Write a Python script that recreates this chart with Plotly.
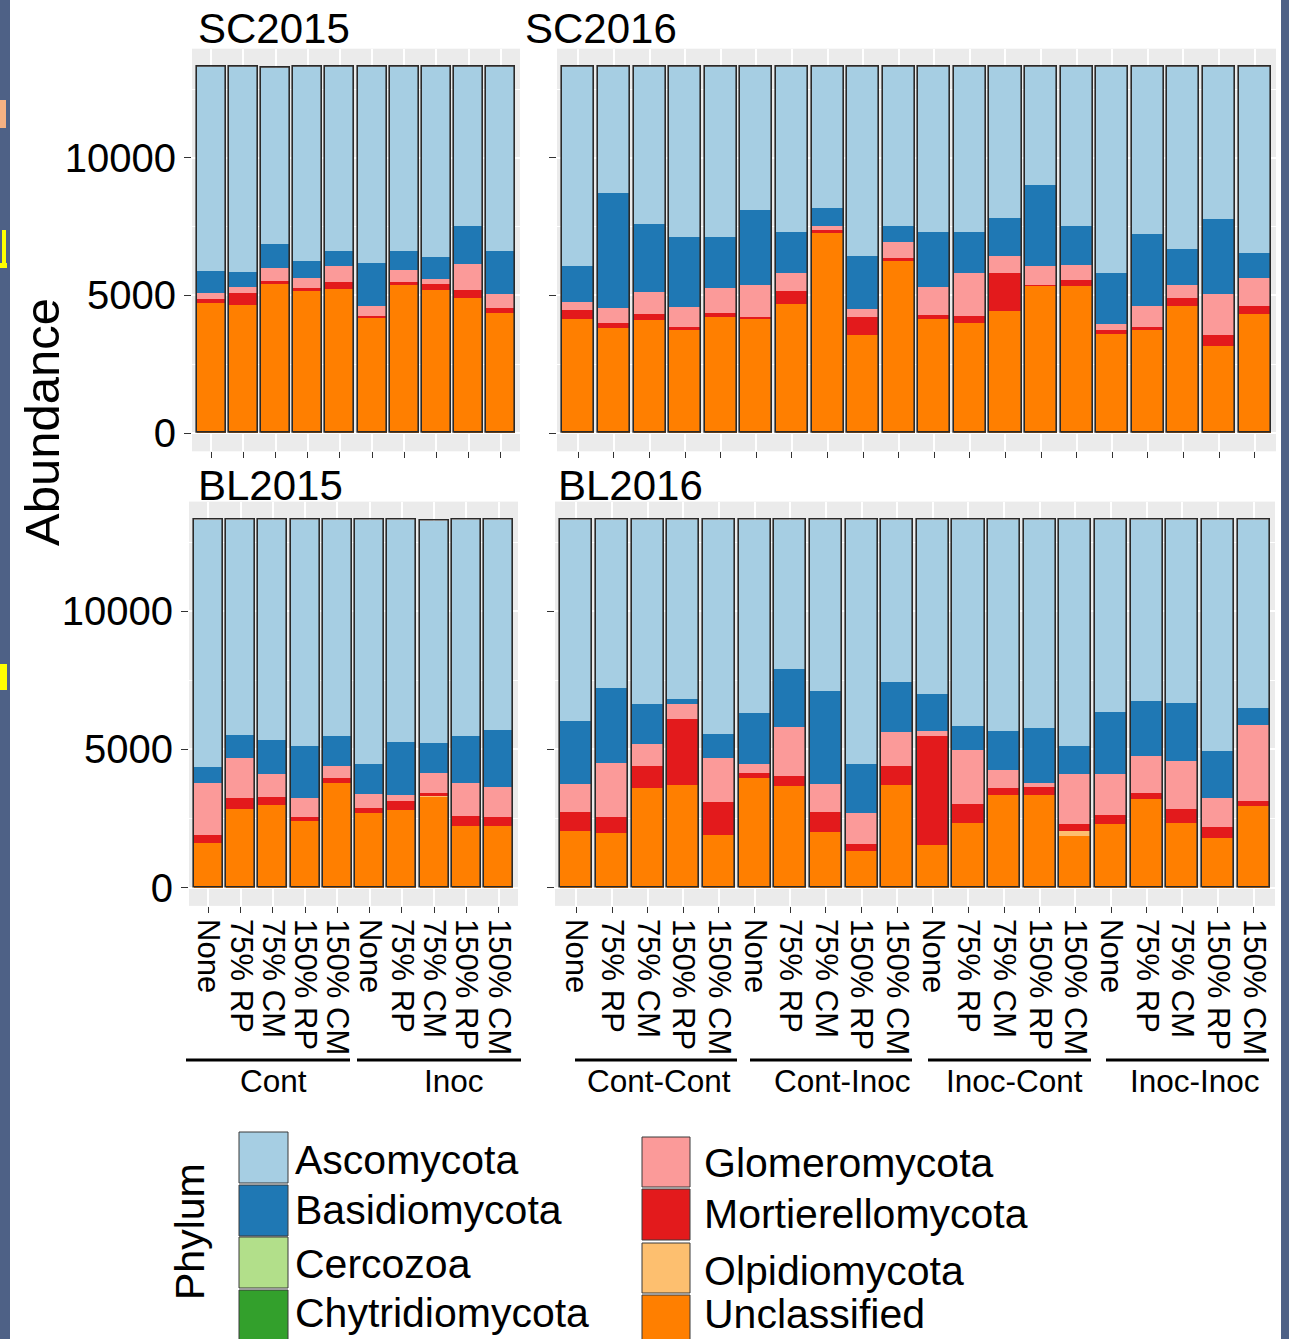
import plotly.graph_objects as go

W, H = 1289, 1339
FONT = "Liberation Sans, Arial, sans-serif"

# ---------------- data ----------------
phyla = ["Ascomycota", "Basidiomycota", "Cercozoa", "Chytridiomycota",
         "Glomeromycota", "Mortierellomycota", "Olpidiomycota", "Unclassified"]
phylum_colors = ["#A6CEE3", "#1F78B4", "#B2DF8A", "#33A02C",
                 "#FB9A99", "#E31A1C", "#FDBF6F", "#FF7F00"]

amend_2015 = ["None", "75% RP", "75% CM", "150% RP", "150% CM"] * 2
amend_2016 = ["None", "75% RP", "75% CM", "150% RP", "150% CM"] * 4
groups_2015 = ["Cont", "Inoc"]
groups_2016 = ["Cont-Cont", "Cont-Inoc", "Inoc-Cont", "Inoc-Inoc"]
panel_titles = ["SC2015", "SC2016", "BL2015", "BL2016"]

# SC2015
sc15_ascomycota = [7400, 7430, 6410, 7030, 6690, 7100, 6670, 6880, 5780, 6680]
sc15_basidiomycota = [810, 570, 870, 630, 540, 1560, 690, 830, 1360, 1550]
sc15_glomeromycota = [220, 190, 470, 370, 570, 380, 450, 180, 960, 530]
sc15_mortierellomycota = [120, 460, 130, 110, 260, 40, 100, 200, 300, 180]
sc15_olpidiomycota = [0, 0, 0, 0, 0, 20, 0, 0, 0, 0]
sc15_unclassified = [4750, 4650, 5410, 5160, 5240, 4200, 5390, 5210, 4900, 4360]

# SC2016
sc16_ascomycota = [7220, 4560, 5680, 6150, 6160, 5190, 5980, 5100, 6860, 5760,
                   5970, 5980, 5470, 4260, 5760, 7490, 6070, 6620, 5530, 6740]
sc16_basidiomycota = [1300, 4180, 2480, 2570, 1870, 2730, 1510, 670, 1920, 580,
                      2000, 1510, 1380, 2950, 1430, 1820, 2590, 1290, 2720, 930]
sc16_glomeromycota = [300, 540, 820, 730, 890, 1140, 630, 140, 280, 600,
                      1030, 1540, 610, 700, 540, 240, 790, 490, 1480, 990]
sc16_mortierellomycota = [340, 180, 200, 100, 170, 90, 480, 100, 670, 90,
                          160, 250, 1380, 30, 220, 140, 100, 270, 400, 310]
sc16_olpidiomycota = [0] * 20
sc16_unclassified = [4140, 3840, 4120, 3750, 4210, 4150, 4700, 7290, 3570, 6270,
                     4140, 4020, 4460, 5360, 5350, 3610, 3750, 4630, 3170, 4330]

# BL2015
bl15_ascomycota = [8910, 7760, 7950, 8180, 7820, 8800, 8030, 8030, 7790, 7580]
bl15_basidiomycota = [610, 840, 1220, 1860, 1060, 1100, 1890, 1090, 1730, 2060]
bl15_glomeromycota = [1860, 1460, 850, 710, 450, 510, 240, 730, 1190, 1100]
bl15_mortierellomycota = [280, 370, 290, 120, 160, 180, 330, 110, 360, 330]
bl15_olpidiomycota = [0, 0, 0, 0, 0, 0, 0, 40, 0, 0]
bl15_unclassified = [1640, 2870, 2990, 2430, 3810, 2710, 2810, 3290, 2230, 2230]

# BL2016
bl16_ascomycota = [7270, 6080, 6650, 6480, 7730, 6960, 5370, 6190, 8820, 5860,
                   6290, 7450, 7630, 7510, 8150, 6920, 6550, 6610, 8360, 6780]
bl16_basidiomycota = [2280, 2710, 1450, 150, 870, 1860, 2110, 3360, 1770, 1790,
                      1340, 850, 1400, 2010, 1040, 2250, 1990, 2110, 1680, 630]
bl16_glomeromycota = [1010, 1950, 790, 550, 1590, 310, 1770, 1010, 1120, 1220,
                      160, 1950, 670, 120, 1790, 1480, 1320, 1710, 1040, 2760]
bl16_mortierellomycota = [690, 570, 780, 2380, 1190, 210, 350, 700, 270, 690,
                          3960, 700, 250, 280, 250, 330, 230, 530, 430, 170]
bl16_olpidiomycota = [0, 0, 0, 0, 0, 0, 0, 0, 0, 0,
                      0, 0, 0, 0, 180, 0, 0, 0, 0, 0]
bl16_unclassified = [2050, 1990, 3630, 3740, 1920, 3960, 3700, 2040, 1320, 3740,
                     1550, 2350, 3350, 3380, 1890, 2320, 3210, 2340, 1790, 2960]

zeros10 = [0] * 10
zeros20 = [0] * 20

panels_data = [
    (amend_2015, {"Ascomycota": sc15_ascomycota, "Basidiomycota": sc15_basidiomycota,
                  "Cercozoa": zeros10, "Chytridiomycota": zeros10,
                  "Glomeromycota": sc15_glomeromycota, "Mortierellomycota": sc15_mortierellomycota,
                  "Olpidiomycota": sc15_olpidiomycota, "Unclassified": sc15_unclassified}),
    (amend_2016, {"Ascomycota": sc16_ascomycota, "Basidiomycota": sc16_basidiomycota,
                  "Cercozoa": zeros20, "Chytridiomycota": zeros20,
                  "Glomeromycota": sc16_glomeromycota, "Mortierellomycota": sc16_mortierellomycota,
                  "Olpidiomycota": sc16_olpidiomycota, "Unclassified": sc16_unclassified}),
    (amend_2015, {"Ascomycota": bl15_ascomycota, "Basidiomycota": bl15_basidiomycota,
                  "Cercozoa": zeros10, "Chytridiomycota": zeros10,
                  "Glomeromycota": bl15_glomeromycota, "Mortierellomycota": bl15_mortierellomycota,
                  "Olpidiomycota": bl15_olpidiomycota, "Unclassified": bl15_unclassified}),
    (amend_2016, {"Ascomycota": bl16_ascomycota, "Basidiomycota": bl16_basidiomycota,
                  "Cercozoa": zeros20, "Chytridiomycota": zeros20,
                  "Glomeromycota": bl16_glomeromycota, "Mortierellomycota": bl16_mortierellomycota,
                  "Olpidiomycota": bl16_olpidiomycota, "Unclassified": bl16_unclassified}),
]

# ---------------- layout geometry (pixels) ----------------
panel_px = [  # x0, x1, y0(top), y1(bottom)
    (192, 520, 48.7, 451.3),
    (557, 1276, 48.7, 451.3),
    (189, 518, 501.6, 905.9),
    (555, 1275, 501.6, 905.9),
]
title_px = [(196, 28), (523, 28), (196, 486), (556, 486)]


def fx(px):
    return px / W


def fy(py):
    return 1 - py / H


fig = go.Figure()
color_of = dict(zip(phyla, phylum_colors))
stack_order = list(reversed(phyla))  # bottom to top

for p, (labels, seg) in enumerate(panels_data):
    n = len(labels)
    xs = list(range(n))
    ax = "" if p == 0 else str(p + 1)
    cum = [0] * n
    for ph in stack_order:
        vals = seg[ph]
        fig.add_trace(go.Bar(
            x=xs, y=vals, base=list(cum), width=0.9,
            marker=dict(color=color_of[ph], line=dict(width=0)),
            name=ph, showlegend=False,
            xaxis="x" + ax, yaxis="y" + ax,
        ))
        cum = [c + v for c, v in zip(cum, vals)]
    # outline of the whole bar
    fig.add_trace(go.Bar(
        x=xs, y=cum, base=[0] * n, width=0.9,
        marker=dict(color="rgba(0,0,0,0)", line=dict(color="#2a2a2a", width=1.6)),
        showlegend=False, hoverinfo="skip",
        xaxis="x" + ax, yaxis="y" + ax,
    ))

    x0, x1, y0, y1 = panel_px[p]
    bottom = p >= 2
    left = p in (0, 2)
    fig.layout["xaxis" + ax] = dict(
        domain=[fx(x0), fx(x1)], anchor="y" + ax,
        range=[-0.6, n - 0.4], tickmode="array", tickvals=xs, ticktext=labels,
        showticklabels=bottom, tickangle=90,
        tickfont=dict(family=FONT, size=31, color="black"),
        ticks="outside", ticklen=6, tickwidth=1.3, tickcolor="#333333",
        showgrid=True, gridcolor="white", gridwidth=1.5,
        zeroline=False, showline=False, automargin=False, fixedrange=True,
    )
    fig.layout["yaxis" + ax] = dict(
        domain=[fy(y1), fy(y0)], anchor="x" + ax,
        range=[-665, 13965], tickmode="array", tickvals=[0, 5000, 10000],
        ticktext=["0", "5000", "10000"], showticklabels=left,
        tickfont=dict(family=FONT, size=40, color="black"),
        ticks="outside", ticklen=7, tickwidth=1.3, tickcolor="#333333",
        showgrid=True, gridcolor="white", gridwidth=1.5,
        minor=dict(tickvals=[2500, 7500, 12500], showgrid=True,
                   gridcolor="white", gridwidth=0.8, ticks=""),
        zeroline=False, showline=False, automargin=False, fixedrange=True,
    )

annotations = []
shapes = []

# panel titles
for (tx, ty), t in zip(title_px, panel_titles):
    annotations.append(dict(text=t, x=fx(tx), y=fy(ty), xref="paper", yref="paper",
                            xanchor="left", yanchor="middle", showarrow=False,
                            font=dict(family=FONT, size=42, color="black")))

# y axis title
annotations.append(dict(text="Abundance", x=fx(42), y=fy(422), xref="paper", yref="paper",
                        textangle=-90, xanchor="center", yanchor="middle", showarrow=False,
                        font=dict(family=FONT, size=49, color="black")))

# group brackets under x labels
group_lines_px = [(186, 350), (357, 521), (575, 737), (750, 912), (928, 1091), (1106, 1269)]
group_label_cx = [273, 454, 659, 842, 1014, 1195]
for (gx0, gx1), cx, g in zip(group_lines_px, group_label_cx, groups_2015 + groups_2016):
    shapes.append(dict(type="line", xref="paper", yref="paper",
                       x0=fx(gx0), x1=fx(gx1), y0=fy(1060), y1=fy(1060),
                       line=dict(color="black", width=3)))
    annotations.append(dict(text=g, x=fx(cx), y=fy(1081), xref="paper", yref="paper",
                            xanchor="center", yanchor="middle", showarrow=False,
                            font=dict(family=FONT, size=31.5, color="black")))

# legend (manual, two columns)
annotations.append(dict(text="Phylum", x=fx(190), y=fy(1232), xref="paper", yref="paper",
                        textangle=-90, xanchor="center", yanchor="middle", showarrow=False,
                        font=dict(family=FONT, size=41, color="black")))
col1_keys = [(1132, 1183), (1185, 1236), (1237, 1288), (1290, 1341)]
col2_keys = [(1137, 1187), (1189, 1240), (1243, 1293), (1295, 1346)]
text_cy = [1160, 1210, 1264, 1313, 1163, 1214, 1271, 1314]
for i, ph in enumerate(phyla):
    if i < 4:
        kx0, kx1, tx = 239, 288, 293
        ky0, ky1 = col1_keys[i]
    else:
        kx0, kx1, tx = 642, 690, 702
        ky0, ky1 = col2_keys[i - 4]
    shapes.append(dict(type="rect", xref="paper", yref="paper",
                       x0=fx(kx0), x1=fx(kx1), y0=fy(ky1), y1=fy(ky0),
                       fillcolor=color_of[ph], line=dict(color="#3a3a3a", width=1)))
    annotations.append(dict(text=ph, x=fx(tx), y=fy(text_cy[i]), xref="paper", yref="paper",
                            xanchor="left", yanchor="middle", showarrow=False,
                            font=dict(family=FONT, size=41, color="black")))

# slide background strips at left/right edges
slide = "#4E6186"
shapes.append(dict(type="rect", xref="paper", yref="paper", x0=0, x1=fx(10), y0=0, y1=1,
                   fillcolor=slide, line=dict(width=0), layer="above"))
shapes.append(dict(type="rect", xref="paper", yref="paper", x0=fx(1281), x1=1, y0=0, y1=1,
                   fillcolor=slide, line=dict(width=0), layer="above"))
shapes.append(dict(type="rect", xref="paper", yref="paper", x0=0, x1=fx(6), y0=fy(128), y1=fy(100),
                   fillcolor="#F4B183", line=dict(width=0), layer="above"))
shapes.append(dict(type="rect", xref="paper", yref="paper", x0=fx(2), x1=fx(6), y0=fy(266), y1=fy(230),
                   fillcolor="#FFFF00", line=dict(width=0), layer="above"))
shapes.append(dict(type="rect", xref="paper", yref="paper", x0=0, x1=fx(7), y0=fy(268), y1=fy(263),
                   fillcolor="#FFFF00", line=dict(width=0), layer="above"))
shapes.append(dict(type="rect", xref="paper", yref="paper", x0=0, x1=fx(7), y0=fy(690), y1=fy(664),
                   fillcolor="#FFFF00", line=dict(width=0), layer="above"))

fig.update_layout(
    width=W, height=H, margin=dict(l=0, r=0, t=0, b=0),
    paper_bgcolor="white", plot_bgcolor="#EBEBEB",
    barmode="overlay", bargap=0, showlegend=False,
    annotations=annotations, shapes=shapes,
    font=dict(family=FONT, color="black"),
)

fig.write_html(
    "out.html",
    config={"displayModeBar": False},
    post_script="document.body.style.margin='0';document.body.style.padding='0';"
                "document.body.style.overflow='hidden';",
)
